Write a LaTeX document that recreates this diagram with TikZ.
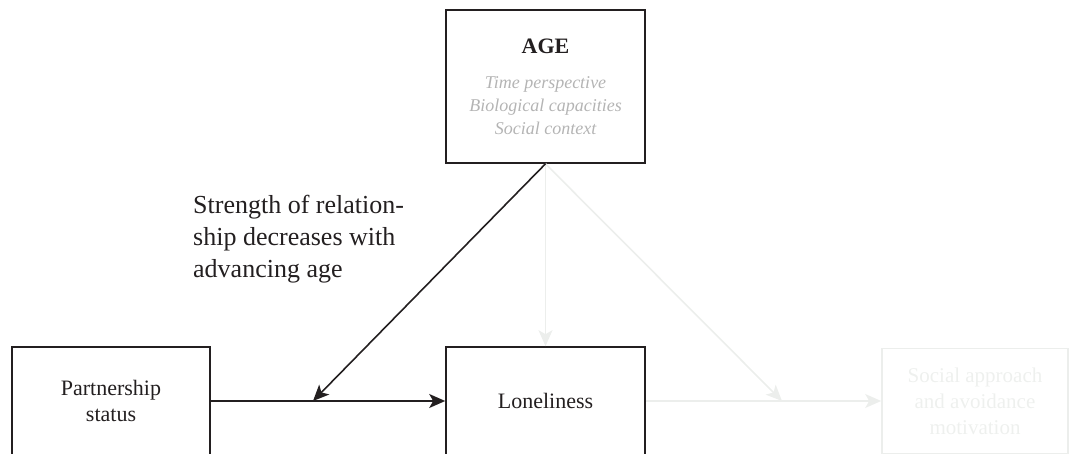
\documentclass[tikz,border=0pt]{standalone}
\usepackage{fontspec}
\setmainfont{Liberation Serif}
\usetikzlibrary{arrows.meta}
\definecolor{ink}{HTML}{231F20}
\definecolor{fade}{HTML}{B4B4B4}
\definecolor{ghost}{HTML}{ECEEEC}
\definecolor{ghosttext}{HTML}{EEF0EE}
\newcommand\facet[1]{\textcolor{fade}{\itshape #1}}
\begin{document}
\begin{tikzpicture}[x=1pt,y=-1pt,
  box/.style={draw=ink, line width=1.6pt, align=center, inner sep=0pt,
    text=ink, font=\fontsize{22}{26}\selectfont},
  ghostbox/.style={draw=ghost, line width=1.6pt, align=center, inner sep=0pt,
    text=ghosttext, font=\fontsize{21}{26}\selectfont},
  tip/.style={-{Stealth[length=16pt,width=14pt,inset=4pt]}},
  link/.style={draw=ink, line width=1.6pt, tip},
  ghostlink/.style={draw=ghost, line width=1.6pt, tip},
  note/.style={align=left, inner sep=0pt, text=ink, font=\fontsize{26}{32}\selectfont}]
\useasboundingbox (0,0) rectangle (1071,454);

% boxes
\node[box, font=\fontsize{18}{23}\selectfont, minimum width=199pt, minimum height=153pt]
  (age) at (545.5,86.5)
  {{\fontsize{22}{26}\selectfont\bfseries AGE}\\[12pt]
   \facet{Time perspective}\\
   \facet{Biological capacities}\\
   \facet{Social context}};
\node[box, minimum width=198pt, minimum height=108pt] (part) at (111,401)
  {Partnership\\status};
\node[box, minimum width=199pt, minimum height=108pt] (lone) at (545.5,401)
  {Loneliness};
\node[ghostbox, minimum width=186pt, minimum height=105pt] (motiv) at (975,401)
  {Social approach\\and avoidance\\motivation};

% moderation label
\node[note, anchor=west] (strength) at (193,239)
  {Strength of relation-\\ship decreases with\\advancing age};

% free ends of the diagonal arrows on the horizontal paths
\coordinate (hit) at (313,401);
\coordinate (hit2) at (782,401);

% faint paths
\draw[ghostlink] (age.south) -- (lone.north);
\draw[ghostlink] (age.south) -- (hit2);
\draw[ghostlink] (lone.east) -- (motiv.west);

% main paths
\draw[link] (part.east) -- (lone.west);
\draw[link] (age.south) -- (hit);
\end{tikzpicture}
\end{document}
